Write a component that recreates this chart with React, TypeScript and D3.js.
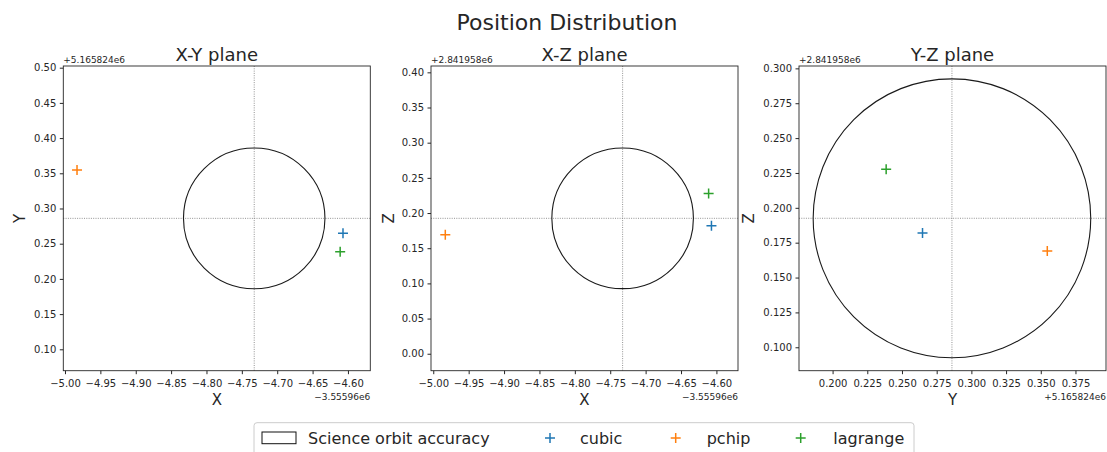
import * as d3 from 'd3';
import { useEffect, useRef } from 'react';

// interpolated positions, relative to the offsets printed on the axes
const methods = ['cubic', 'pchip', 'lagrange'];
const colors = ['#1f77b4', '#ff7f0e', '#2ca02c'];
const posX = [-4.607, -4.983, -4.611]; // + -3.55596e6
const posY = [0.2648, 0.3547, 0.2386]; // + 5.165824e6
const posZ = [0.182, 0.169, 0.2277]; // + 2.841958e6

// science orbit (centre + accuracy radius)
const centerX = -4.7325;
const centerY = 0.286;
const centerZ = 0.1925;
const radius = 0.1;

const xTicks = [-5.0, -4.95, -4.9, -4.85, -4.8, -4.75, -4.7, -4.65, -4.6];
const yTicksXY = [0.1, 0.15, 0.2, 0.25, 0.3, 0.35, 0.4, 0.45, 0.5];
const zTicksXZ = [0.0, 0.05, 0.1, 0.15, 0.2, 0.25, 0.3, 0.35, 0.4];
const yTicksYZ = [0.2, 0.225, 0.25, 0.275, 0.3, 0.325, 0.35, 0.375];
const zTicksYZ = [0.1, 0.125, 0.15, 0.175, 0.2, 0.225, 0.25, 0.275, 0.3];

const FONT = '"DejaVu Sans", sans-serif';
const INK = '#262626';

const panels = [
  {
    title: 'X-Y plane', xLabel: 'X', yLabel: 'Y', left: 63.3, yLabelX: 25,
    xs: posX, ys: posY, cx: centerX, cy: centerY,
    xDomain: [-5.0024, -4.5684], yDomain: [0.0696, 0.5024],
    xTicks, yTicks: yTicksXY, xFmt: '.2f', yFmt: '.2f',
    xOffset: '\u22123.55596e6', yOffset: '+5.165824e6',
  },
  {
    title: 'X-Z plane', xLabel: 'X', yLabel: 'Z', left: 431, yLabelX: 394,
    xs: posX, ys: posZ, cx: centerX, cy: centerZ,
    xDomain: [-5.0032, -4.5695], yDomain: [-0.0241, 0.409],
    xTicks, yTicks: zTicksXZ, xFmt: '.2f', yFmt: '.2f',
    xOffset: '\u22123.55596e6', yOffset: '+2.841958e6',
  },
  {
    title: 'Y-Z plane', xLabel: 'Y', yLabel: 'Z', left: 799, yLabelX: 754,
    xs: posY, ys: posZ, cx: centerY, cy: centerZ,
    xDomain: [0.1758, 0.397], yDomain: [0.0832, 0.3017],
    xTicks: yTicksYZ, yTicks: zTicksYZ, xFmt: '.3f', yFmt: '.3f',
    xOffset: '+5.165824e6', yOffset: '+2.841958e6',
  },
];

const plotW = 307;
const plotTop = 66;
const plotBottom = 370.7;

const plus = (x: number, y: number, s = 5) => `M${x - s},${y}H${x + s}M${x},${y - s}V${y + s}`;

export default function App() {
  const ref = useRef<SVGSVGElement>(null);

  useEffect(() => {
    const svg = d3.select(ref.current);
    svg.selectAll('*').remove();

    svg.append('text')
      .attr('x', 567).attr('y', 30)
      .attr('text-anchor', 'middle')
      .attr('font-size', 22).attr('fill', INK)
      .text('Position Distribution');

    panels.forEach((p) => {
      const x = d3.scaleLinear().domain(p.xDomain).range([p.left, p.left + plotW]);
      const y = d3.scaleLinear().domain(p.yDomain).range([plotBottom, plotTop]);
      const g = svg.append('g');

      // dotted crosshair through the orbit centre
      g.append('line')
        .attr('x1', x(p.cx)).attr('x2', x(p.cx)).attr('y1', plotTop).attr('y2', plotBottom)
        .attr('stroke', '#777').attr('stroke-width', 0.8).attr('stroke-dasharray', '1,1.3');
      g.append('line')
        .attr('x1', p.left).attr('x2', p.left + plotW).attr('y1', y(p.cy)).attr('y2', y(p.cy))
        .attr('stroke', '#777').attr('stroke-width', 0.8).attr('stroke-dasharray', '1,1.3');

      g.append('ellipse')
        .attr('cx', x(p.cx)).attr('cy', y(p.cy))
        .attr('rx', x(p.cx + radius) - x(p.cx))
        .attr('ry', y(p.cy) - y(p.cy + radius))
        .attr('fill', 'none').attr('stroke', '#1a1a1a').attr('stroke-width', 1.1);

      g.selectAll('path.pt').data(methods).join('path')
        .attr('class', 'pt')
        .attr('d', (_d, i) => plus(x(p.xs[i]), y(p.ys[i])))
        .attr('stroke', (_d, i) => colors[i])
        .attr('stroke-width', 1.5).attr('fill', 'none');

      const ax = g.append('g')
        .attr('transform', `translate(0,${plotBottom})`)
        .call(d3.axisBottom(x).tickValues(p.xTicks).tickFormat(d3.format(p.xFmt)).tickSize(3.5).tickPadding(5.5).tickSizeOuter(0));
      const ay = g.append('g')
        .attr('transform', `translate(${p.left},0)`)
        .call(d3.axisLeft(y).tickValues(p.yTicks).tickFormat(d3.format(p.yFmt)).tickSize(3.5).tickPadding(3.5).tickSizeOuter(0));
      [ax, ay].forEach((a) => {
        a.attr('font-family', FONT).attr('font-size', 10).attr('color', INK);
        a.select('.domain').remove();
      });

      g.append('rect')
        .attr('x', p.left).attr('y', plotTop).attr('width', plotW).attr('height', plotBottom - plotTop)
        .attr('fill', 'none').attr('stroke', INK).attr('stroke-width', 0.9);

      g.append('text')
        .attr('x', p.left + plotW / 2).attr('y', 60.5)
        .attr('text-anchor', 'middle').attr('font-size', 18).attr('fill', INK)
        .text(p.title);

      g.append('text')
        .attr('x', p.left + plotW / 2).attr('y', 405)
        .attr('text-anchor', 'middle').attr('font-size', 15).attr('fill', INK)
        .text(p.xLabel);

      g.append('text')
        .attr('transform', `translate(${p.yLabelX},${(plotTop + plotBottom) / 2}) rotate(-90)`)
        .attr('text-anchor', 'middle').attr('font-size', 15).attr('fill', INK)
        .text(p.yLabel);

      g.append('text')
        .attr('x', p.left).attr('y', 63)
        .attr('font-size', 9).attr('fill', INK)
        .text(p.yOffset);

      g.append('text')
        .attr('x', p.left + plotW).attr('y', 400)
        .attr('text-anchor', 'end').attr('font-size', 9).attr('fill', INK)
        .text(p.xOffset);
    });

    // legend
    const lg = svg.append('g').attr('font-size', 16).attr('fill', INK);
    lg.append('rect')
      .attr('x', 254).attr('y', 422.7).attr('width', 660).attr('height', 40).attr('rx', 3)
      .attr('fill', '#fff').attr('stroke', '#ccc').attr('stroke-width', 1);
    lg.append('rect')
      .attr('x', 262).attr('y', 432).attr('width', 34).attr('height', 11.7)
      .attr('fill', 'none').attr('stroke', '#111').attr('stroke-width', 1);
    lg.append('text').attr('x', 308).attr('y', 444).text('Science orbit accuracy');

    const markerX = [550, 675.7, 800.7];
    const labelX = [580, 706.7, 833.3];
    methods.forEach((m, i) => {
      lg.append('path').attr('d', plus(markerX[i], 438)).attr('stroke', colors[i]).attr('stroke-width', 1.5);
      lg.append('text').attr('x', labelX[i]).attr('y', 444).text(m);
    });
  }, []);

  return (
    <svg
      ref={ref}
      width={1107}
      height={452}
      style={{ position: 'absolute', left: 0, top: 0, fontFamily: FONT, background: '#fff' }}
    />
  );
}
